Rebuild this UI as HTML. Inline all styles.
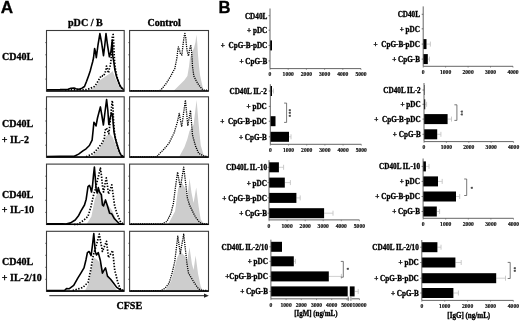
<!DOCTYPE html>
<html><head><meta charset="utf-8"><style>
html,body{margin:0;padding:0;background:#fff;width:520px;height:322px;overflow:hidden;}
svg{display:block;filter:grayscale(1);}
text{paint-order:stroke;stroke:#000;stroke-width:0.32px;}
</style></head><body>
<svg width="520" height="322" viewBox="0 0 520 322">
<rect width="520" height="322" fill="#fff"/>
<g opacity="0.995">
<text x="0.7" y="13.3" font-family='"Liberation Sans", sans-serif' font-size="17.1" font-weight="bold" text-anchor="start" fill="#000" >A</text>
<text x="218.6" y="12.8" font-family='"Liberation Sans", sans-serif' font-size="16.6" font-weight="bold" text-anchor="start" fill="#000" >B</text>
<text x="68.0" y="26.3" font-family='"Liberation Serif", serif' font-size="10.1" font-weight="bold" text-anchor="start" fill="#000" >pDC / B</text>
<text x="147.4" y="26.3" font-family='"Liberation Serif", serif' font-size="10.1" font-weight="bold" text-anchor="start" fill="#000" >Control</text>
<text x="2.0" y="60.1" font-family='"Liberation Serif", serif' font-size="10.0" font-weight="bold" text-anchor="start" fill="#000" >CD40L</text>
<text x="2.0" y="127.0" font-family='"Liberation Serif", serif' font-size="10.0" font-weight="bold" text-anchor="start" fill="#000" >CD40L</text>
<text x="1.8" y="142.7" font-family='"Liberation Serif", serif' font-size="10.0" font-weight="bold" text-anchor="start" fill="#000" >+ IL-2</text>
<text x="2.0" y="197.5" font-family='"Liberation Serif", serif' font-size="10.0" font-weight="bold" text-anchor="start" fill="#000" >CD40L</text>
<text x="1.8" y="213.2" font-family='"Liberation Serif", serif' font-size="10.0" font-weight="bold" text-anchor="start" fill="#000" >+ IL-10</text>
<text x="2.0" y="265.3" font-family='"Liberation Serif", serif' font-size="10.0" font-weight="bold" text-anchor="start" fill="#000" >CD40L</text>
<text x="1.8" y="281.0" font-family='"Liberation Serif", serif' font-size="10.0" font-weight="bold" text-anchor="start" fill="#000" >+ IL-2/10</text>
<polygon points="84.0,90.5 90.0,89.5 95.0,87.5 100.0,80.2 103.0,78.0 106.0,76.0 109.0,74.0 111.5,72.2 112.6,71.0 114.9,76.8 118.3,84.8 121.2,89.4 122.0,90.5" fill="#cdcdcd" stroke="none"/>
<polyline points="65.0,90.0 75.0,89.8 86.0,89.7 90.0,88.5 94.5,86.5 97.0,83.0 99.8,78.0 101.4,75.5 103.4,76.2 105.1,73.0 106.0,69.0 106.5,66.0 107.5,70.0 108.5,73.0 109.5,68.0 110.5,65.0 111.0,60.0 111.8,50.0 112.4,36.0 113.2,34.5 113.8,45.0 114.2,55.0 114.6,62.0 115.5,70.0 117.0,77.0 119.0,83.0 121.0,87.5 123.5,89.5" fill="none" stroke="#000" stroke-width="1.7" stroke-dasharray="1.4 1.5" stroke-linejoin="round"/>
<polyline points="46.5,89.8 60.0,89.6 68.0,89.3 71.0,88.3 74.0,88.0 76.0,88.8 79.0,89.3 82.0,88.2 84.5,86.5 86.6,81.2 88.7,75.4 90.2,71.0 91.4,66.4 92.6,62.0 93.5,58.0 94.2,52.0 94.6,48.5 95.5,52.0 96.3,57.7 98.0,45.0 99.9,33.6 101.5,42.0 103.5,55.7 104.8,45.0 106.0,33.5 107.5,45.0 109.4,56.8 110.9,51.8 112.3,40.0 112.6,55.0 113.8,61.9 114.9,69.9 116.6,76.8 118.3,81.4 120.1,86.0 122.4,88.8 124.0,89.6" fill="none" stroke="#000" stroke-width="1.6" stroke-linejoin="round"/>
<rect x="46.5" y="30.5" width="77.7" height="60.7" fill="none" stroke="#3a3a3a" stroke-width="1.1"/>
<line x1="45.3" y1="79.1" x2="46.5" y2="79.1" stroke="#333" stroke-width="0.8"/>
<line x1="45.3" y1="66.9" x2="46.5" y2="66.9" stroke="#333" stroke-width="0.8"/>
<line x1="45.3" y1="54.8" x2="46.5" y2="54.8" stroke="#333" stroke-width="0.8"/>
<line x1="45.3" y1="42.6" x2="46.5" y2="42.6" stroke="#333" stroke-width="0.8"/>
<line x1="46.5" y1="90.9" x2="124.2" y2="90.9" stroke="#000" stroke-width="1.4"/>
<polygon points="173.7,90.8 179.0,85.4 184.3,80.2 187.4,76.0 189.0,66.4 190.0,58.0 192.0,52.0 194.0,48.0 195.5,42.0 196.4,34.8 197.2,42.0 198.0,55.0 199.0,66.0 200.0,75.0 201.5,82.0 203.0,88.0 204.5,90.8" fill="#cdcdcd" stroke="none"/>
<polyline points="131.0,90.7 150.0,90.7 158.0,90.6 160.0,90.5 162.1,88.6 166.3,83.3 170.5,76.5 174.8,68.5 176.9,58.0 177.8,50.0 178.4,46.9 179.5,50.0 180.5,54.0 181.9,55.0 183.0,45.0 184.0,37.0 184.9,33.5 185.8,38.0 186.5,46.0 187.3,52.0 188.5,56.0 189.5,50.0 190.8,44.9 191.6,52.0 192.2,60.0 192.5,66.4 193.8,76.0 196.4,81.2 199.0,85.4 202.2,89.1 204.0,90.2 207.0,90.2" fill="none" stroke="#000" stroke-width="1.3" stroke-dasharray="1.2 1.0" stroke-linejoin="round"/>
<rect x="129.6" y="30.5" width="78.9" height="60.7" fill="none" stroke="#3a3a3a" stroke-width="1.1"/>
<line x1="128.4" y1="79.1" x2="129.6" y2="79.1" stroke="#333" stroke-width="0.8"/>
<line x1="128.4" y1="66.9" x2="129.6" y2="66.9" stroke="#333" stroke-width="0.8"/>
<line x1="128.4" y1="54.8" x2="129.6" y2="54.8" stroke="#333" stroke-width="0.8"/>
<line x1="128.4" y1="42.6" x2="129.6" y2="42.6" stroke="#333" stroke-width="0.8"/>
<line x1="129.6" y1="90.9" x2="208.5" y2="90.9" stroke="#000" stroke-width="1.4"/>
<polygon points="91.0,157.0 96.0,152.0 100.0,148.0 102.3,143.5 104.5,139.0 106.0,136.5 108.5,134.0 110.0,134.0 112.5,137.0 114.5,142.0 116.5,147.0 118.5,152.0 120.5,157.0" fill="#cdcdcd" stroke="none"/>
<polyline points="86.1,156.8 93.7,153.1 98.5,147.7 102.3,142.8 104.4,138.0 105.0,130.5 106.5,128.0 108.8,133.7 109.5,128.0 110.5,118.0 111.5,108.0 112.3,100.5 113.0,108.0 113.5,120.0 114.5,133.0 116.0,141.0 118.0,148.0 120.5,154.0 123.0,156.5" fill="none" stroke="#000" stroke-width="1.7" stroke-dasharray="1.4 1.5" stroke-linejoin="round"/>
<polyline points="46.5,156.5 60.0,156.3 68.0,156.2 74.3,156.3 78.6,154.1 82.9,150.9 86.1,148.8 89.4,145.5 92.1,140.1 93.1,130.5 93.9,122.3 95.0,124.0 96.0,126.0 97.5,118.0 100.4,106.9 101.8,115.0 103.4,125.0 105.0,112.0 106.6,99.5 107.8,110.0 108.8,124.5 110.2,118.0 111.5,113.0 112.6,114.5 113.2,124.0 114.1,132.6 115.7,140.1 117.4,145.5 119.5,152.0 121.7,156.3 124.0,156.5" fill="none" stroke="#000" stroke-width="1.6" stroke-linejoin="round"/>
<rect x="46.5" y="96.8" width="77.7" height="60.500000000000014" fill="none" stroke="#3a3a3a" stroke-width="1.1"/>
<line x1="45.3" y1="145.2" x2="46.5" y2="145.2" stroke="#333" stroke-width="0.8"/>
<line x1="45.3" y1="133.1" x2="46.5" y2="133.1" stroke="#333" stroke-width="0.8"/>
<line x1="45.3" y1="121.0" x2="46.5" y2="121.0" stroke="#333" stroke-width="0.8"/>
<line x1="45.3" y1="108.9" x2="46.5" y2="108.9" stroke="#333" stroke-width="0.8"/>
<line x1="46.5" y1="157.0" x2="124.2" y2="157.0" stroke="#000" stroke-width="1.4"/>
<polygon points="179.2,156.8 184.4,147.3 187.4,139.1 189.5,130.9 193.6,124.7 196.6,100.1 198.7,124.7 200.7,145.2 203.8,155.5 204.5,156.8" fill="#cdcdcd" stroke="none"/>
<polyline points="131.0,157.0 150.0,157.0 156.7,157.0 158.7,154.5 163.9,149.3 169.0,143.2 174.1,132.9 177.2,122.7 179.2,113.5 181.7,126.8 185.4,100.1 187.8,125.8 190.5,110.4 192.5,135.0 195.6,146.3 198.7,153.4 202.8,155.5 207.0,156.5" fill="none" stroke="#000" stroke-width="1.3" stroke-dasharray="1.2 1.0" stroke-linejoin="round"/>
<rect x="129.6" y="96.8" width="78.9" height="60.500000000000014" fill="none" stroke="#3a3a3a" stroke-width="1.1"/>
<line x1="128.4" y1="145.2" x2="129.6" y2="145.2" stroke="#333" stroke-width="0.8"/>
<line x1="128.4" y1="133.1" x2="129.6" y2="133.1" stroke="#333" stroke-width="0.8"/>
<line x1="128.4" y1="121.0" x2="129.6" y2="121.0" stroke="#333" stroke-width="0.8"/>
<line x1="128.4" y1="108.9" x2="129.6" y2="108.9" stroke="#333" stroke-width="0.8"/>
<line x1="129.6" y1="157.0" x2="208.5" y2="157.0" stroke="#000" stroke-width="1.4"/>
<polygon points="86.2,224.8 91.4,216.5 94.8,199.2 97.2,193.5 98.5,188.0 100.0,192.0 101.5,197.0 104.1,201.5 108.0,205.0 112.2,210.8 116.8,221.2 119.5,224.8" fill="#cdcdcd" stroke="none"/>
<polyline points="74.0,224.5 77.5,224.4 83.3,220.6 87.9,216.5 90.8,207.3 93.1,196.9 95.0,190.0 97.0,182.0 99.0,174.0 100.4,168.0 101.5,176.0 102.5,186.0 103.5,192.0 105.0,184.0 106.3,177.9 107.5,186.0 108.5,194.0 110.0,190.0 111.8,184.9 113.0,194.0 114.5,205.0 116.8,213.1 120.2,221.2 123.0,224.0" fill="none" stroke="#000" stroke-width="1.7" stroke-dasharray="1.4 1.5" stroke-linejoin="round"/>
<polyline points="46.5,223.8 62.0,223.8 66.0,224.0 70.6,222.9 75.2,220.0 78.7,215.4 81.0,210.8 84.5,205.0 86.2,199.2 88.0,186.6 89.4,185.4 90.5,188.0 91.5,192.0 92.5,186.0 93.5,175.0 94.4,167.0 95.3,178.0 96.2,190.0 97.2,193.0 98.3,187.6 99.5,192.0 101.4,194.8 102.4,205.0 103.5,206.0 105.5,199.9 107.5,206.0 109.6,213.2 111.6,213.7 114.5,218.8 119.1,223.5 123.0,224.0" fill="none" stroke="#000" stroke-width="1.6" stroke-linejoin="round"/>
<rect x="46.5" y="164.1" width="77.7" height="60.400000000000006" fill="none" stroke="#3a3a3a" stroke-width="1.1"/>
<line x1="45.3" y1="212.4" x2="46.5" y2="212.4" stroke="#333" stroke-width="0.8"/>
<line x1="45.3" y1="200.3" x2="46.5" y2="200.3" stroke="#333" stroke-width="0.8"/>
<line x1="45.3" y1="188.3" x2="46.5" y2="188.3" stroke="#333" stroke-width="0.8"/>
<line x1="45.3" y1="176.2" x2="46.5" y2="176.2" stroke="#333" stroke-width="0.8"/>
<line x1="46.5" y1="224.2" x2="124.2" y2="224.2" stroke="#000" stroke-width="1.4"/>
<polygon points="168.0,224.6 175.1,211.2 178.2,188.6 181.7,182.6 185.4,188.6 187.4,196.9 189.5,178.4 191.5,192.8 193.6,203.0 196.2,187.6 198.7,207.1 200.7,219.5 203.8,223.5 204.5,224.6" fill="#cdcdcd" stroke="none"/>
<polyline points="131.0,224.0 150.0,224.0 161.8,224.0 166.9,221.4 171.0,213.2 173.5,203.0 175.5,186.6 177.6,172.2 180.3,187.6 183.7,167.1 185.8,184.5 187.4,197.9 189.5,205.0 192.5,211.2 195.6,217.3 199.7,222.4 203.0,224.0 207.0,224.0" fill="none" stroke="#000" stroke-width="1.3" stroke-dasharray="1.2 1.0" stroke-linejoin="round"/>
<rect x="129.6" y="164.1" width="78.9" height="60.400000000000006" fill="none" stroke="#3a3a3a" stroke-width="1.1"/>
<line x1="128.4" y1="212.4" x2="129.6" y2="212.4" stroke="#333" stroke-width="0.8"/>
<line x1="128.4" y1="200.3" x2="129.6" y2="200.3" stroke="#333" stroke-width="0.8"/>
<line x1="128.4" y1="188.3" x2="129.6" y2="188.3" stroke="#333" stroke-width="0.8"/>
<line x1="128.4" y1="176.2" x2="129.6" y2="176.2" stroke="#333" stroke-width="0.8"/>
<line x1="129.6" y1="224.2" x2="208.5" y2="224.2" stroke="#000" stroke-width="1.4"/>
<polygon points="85.0,290.8 89.1,282.3 91.5,267.9 94.2,257.7 97.3,259.7 100.4,263.8 103.4,270.0 107.5,276.1 111.6,282.3 115.7,288.4 117.5,290.8" fill="#cdcdcd" stroke="none"/>
<polyline points="72.7,290.6 82.9,287.4 88.1,282.3 90.7,270.0 93.2,255.6 96.3,245.4 99.3,234.1 102.4,251.5 106.5,241.3 108.5,257.7 112.6,250.5 114.7,270.0 117.8,282.3 120.5,289.5 123.0,290.5" fill="none" stroke="#000" stroke-width="1.7" stroke-dasharray="1.4 1.5" stroke-linejoin="round"/>
<polyline points="46.5,290.5 64.5,290.5 66.5,288.6 69.0,288.8 73.7,285.4 77.8,278.2 80.9,273.1 84.0,267.9 86.0,259.7 87.4,252.6 89.1,251.5 91.1,255.6 92.5,245.0 93.8,233.5 95.2,251.5 96.5,255.0 98.3,252.6 100.4,260.8 102.4,273.1 105.5,267.9 107.5,276.1 110.6,279.2 113.5,283.0 116.7,287.4 120.8,290.0 124.0,290.5" fill="none" stroke="#000" stroke-width="1.6" stroke-linejoin="round"/>
<rect x="46.5" y="231.3" width="77.7" height="60.0" fill="none" stroke="#3a3a3a" stroke-width="1.1"/>
<line x1="45.3" y1="279.3" x2="46.5" y2="279.3" stroke="#333" stroke-width="0.8"/>
<line x1="45.3" y1="267.3" x2="46.5" y2="267.3" stroke="#333" stroke-width="0.8"/>
<line x1="45.3" y1="255.3" x2="46.5" y2="255.3" stroke="#333" stroke-width="0.8"/>
<line x1="45.3" y1="243.3" x2="46.5" y2="243.3" stroke="#333" stroke-width="0.8"/>
<line x1="46.5" y1="291.0" x2="124.2" y2="291.0" stroke="#000" stroke-width="1.4"/>
<polygon points="164.9,290.8 171.0,281.3 174.1,270.0 177.2,257.7 180.3,251.5 184.4,255.6 187.0,261.8 189.5,247.4 191.9,263.8 193.6,270.0 195.6,255.6 198.1,274.1 200.7,286.4 203.0,290.8" fill="#cdcdcd" stroke="none"/>
<polyline points="131.0,290.8 150.0,290.8 160.8,290.7 164.9,288.4 169.0,283.3 172.1,273.1 174.7,261.8 176.2,249.5 177.8,236.2 180.3,253.6 183.7,234.1 185.4,249.5 187.0,263.8 188.5,273.1 191.5,278.2 194.6,283.3 198.7,289.0 202.0,290.5 207.0,290.5" fill="none" stroke="#000" stroke-width="1.3" stroke-dasharray="1.2 1.0" stroke-linejoin="round"/>
<rect x="129.6" y="231.3" width="78.9" height="60.0" fill="none" stroke="#3a3a3a" stroke-width="1.1"/>
<line x1="128.4" y1="279.3" x2="129.6" y2="279.3" stroke="#333" stroke-width="0.8"/>
<line x1="128.4" y1="267.3" x2="129.6" y2="267.3" stroke="#333" stroke-width="0.8"/>
<line x1="128.4" y1="255.3" x2="129.6" y2="255.3" stroke="#333" stroke-width="0.8"/>
<line x1="128.4" y1="243.3" x2="129.6" y2="243.3" stroke="#333" stroke-width="0.8"/>
<line x1="129.6" y1="291.0" x2="208.5" y2="291.0" stroke="#000" stroke-width="1.4"/>
<line x1="49.3" y1="295.7" x2="205" y2="295.7" stroke="#222" stroke-width="1"/>
<polygon points="204,293.6 208.8,295.7 204,297.8" fill="#222"/>
<text x="116.4" y="308.8" font-family='"Liberation Serif", serif' font-size="10.1" font-weight="bold" text-anchor="start" fill="#000" >CFSE</text>
<line x1="268.5" y1="15.7" x2="270.0" y2="15.7" stroke="#333" stroke-width="0.7"/>
<text x="267.3" y="18.599999999999998" font-family='"Liberation Serif", serif' font-size="7.2" font-weight="bold" text-anchor="end" fill="#000" >CD40L</text>
<line x1="268.5" y1="30.2" x2="270.0" y2="30.2" stroke="#333" stroke-width="0.7"/>
<text x="267.3" y="33.1" font-family='"Liberation Serif", serif' font-size="7.2" font-weight="bold" text-anchor="end" fill="#000" >+ pDC</text>
<rect x="270.0" y="40.4" width="2.00" height="10" fill="#000"/>
<line x1="268.5" y1="45.4" x2="270.0" y2="45.4" stroke="#333" stroke-width="0.7"/>
<text x="267.3" y="48.3" font-family='"Liberation Serif", serif' font-size="7.2" font-weight="bold" text-anchor="end" fill="#000" >+  CpG-B-pDC</text>
<line x1="268.5" y1="60.9" x2="270.0" y2="60.9" stroke="#333" stroke-width="0.7"/>
<text x="267.3" y="63.8" font-family='"Liberation Serif", serif' font-size="7.2" font-weight="bold" text-anchor="end" fill="#000" >+ CpG-B</text>
<line x1="270.0" y1="8.5" x2="270.0" y2="68.6" stroke="#555" stroke-width="0.9"/>
<line x1="270.0" y1="68.6" x2="361.0" y2="68.6" stroke="#555" stroke-width="0.9"/>
<line x1="270.0" y1="68.6" x2="270.0" y2="69.89999999999999" stroke="#555" stroke-width="0.6"/>
<text x="270.0" y="76.39999999999999" font-family='"Liberation Serif", serif' font-size="5.6" font-weight="bold" text-anchor="middle" fill="#111" style="stroke-width:0.18px">0</text>
<line x1="288.2" y1="68.6" x2="288.2" y2="69.89999999999999" stroke="#555" stroke-width="0.6"/>
<text x="288.2" y="76.39999999999999" font-family='"Liberation Serif", serif' font-size="5.6" font-weight="bold" text-anchor="middle" fill="#111" style="stroke-width:0.18px">1000</text>
<line x1="306.4" y1="68.6" x2="306.4" y2="69.89999999999999" stroke="#555" stroke-width="0.6"/>
<text x="306.4" y="76.39999999999999" font-family='"Liberation Serif", serif' font-size="5.6" font-weight="bold" text-anchor="middle" fill="#111" style="stroke-width:0.18px">2000</text>
<line x1="324.6" y1="68.6" x2="324.6" y2="69.89999999999999" stroke="#555" stroke-width="0.6"/>
<text x="324.6" y="76.39999999999999" font-family='"Liberation Serif", serif' font-size="5.6" font-weight="bold" text-anchor="middle" fill="#111" style="stroke-width:0.18px">3000</text>
<line x1="342.8" y1="68.6" x2="342.8" y2="69.89999999999999" stroke="#555" stroke-width="0.6"/>
<text x="342.8" y="76.39999999999999" font-family='"Liberation Serif", serif' font-size="5.6" font-weight="bold" text-anchor="middle" fill="#111" style="stroke-width:0.18px">4000</text>
<line x1="361.0" y1="68.6" x2="361.0" y2="69.89999999999999" stroke="#555" stroke-width="0.6"/>
<text x="361.0" y="76.39999999999999" font-family='"Liberation Serif", serif' font-size="5.6" font-weight="bold" text-anchor="middle" fill="#111" style="stroke-width:0.18px">5000</text>
<line x1="421.7" y1="14.3" x2="423.2" y2="14.3" stroke="#333" stroke-width="0.7"/>
<text x="420.0" y="17.2" font-family='"Liberation Serif", serif' font-size="7.2" font-weight="bold" text-anchor="end" fill="#000" >CD40L</text>
<line x1="421.7" y1="28.8" x2="423.2" y2="28.8" stroke="#333" stroke-width="0.7"/>
<text x="420.0" y="31.7" font-family='"Liberation Serif", serif' font-size="7.2" font-weight="bold" text-anchor="end" fill="#000" >+ pDC</text>
<line x1="426.5" y1="44.1" x2="430.4" y2="44.1" stroke="#c4c4c4" stroke-width="0.8"/>
<line x1="430.4" y1="41.6" x2="430.4" y2="46.6" stroke="#c4c4c4" stroke-width="0.9"/>
<rect x="423.2" y="39.1" width="3.30" height="10" fill="#000"/>
<line x1="421.7" y1="44.1" x2="423.2" y2="44.1" stroke="#333" stroke-width="0.7"/>
<text x="420.0" y="47.0" font-family='"Liberation Serif", serif' font-size="7.2" font-weight="bold" text-anchor="end" fill="#000" >+  CpG-B-pDC</text>
<line x1="427.8" y1="59.1" x2="429.5" y2="59.1" stroke="#c4c4c4" stroke-width="0.8"/>
<line x1="429.5" y1="56.6" x2="429.5" y2="61.6" stroke="#c4c4c4" stroke-width="0.9"/>
<rect x="423.2" y="54.1" width="4.60" height="10" fill="#000"/>
<line x1="421.7" y1="59.1" x2="423.2" y2="59.1" stroke="#333" stroke-width="0.7"/>
<text x="420.0" y="62.0" font-family='"Liberation Serif", serif' font-size="7.2" font-weight="bold" text-anchor="end" fill="#000" >+ CpG-B</text>
<line x1="423.2" y1="6.4" x2="423.2" y2="66.3" stroke="#555" stroke-width="0.9"/>
<line x1="423.2" y1="66.3" x2="513.0" y2="66.3" stroke="#555" stroke-width="0.9"/>
<line x1="423.2" y1="66.3" x2="423.2" y2="67.6" stroke="#555" stroke-width="0.6"/>
<text x="423.2" y="74.1" font-family='"Liberation Serif", serif' font-size="5.6" font-weight="bold" text-anchor="middle" fill="#111" style="stroke-width:0.18px">0</text>
<line x1="445.6" y1="66.3" x2="445.6" y2="67.6" stroke="#555" stroke-width="0.6"/>
<text x="445.6" y="74.1" font-family='"Liberation Serif", serif' font-size="5.6" font-weight="bold" text-anchor="middle" fill="#111" style="stroke-width:0.18px">1000</text>
<line x1="468.1" y1="66.3" x2="468.1" y2="67.6" stroke="#555" stroke-width="0.6"/>
<text x="468.1" y="74.1" font-family='"Liberation Serif", serif' font-size="5.6" font-weight="bold" text-anchor="middle" fill="#111" style="stroke-width:0.18px">2000</text>
<line x1="490.5" y1="66.3" x2="490.5" y2="67.6" stroke="#555" stroke-width="0.6"/>
<text x="490.5" y="74.1" font-family='"Liberation Serif", serif' font-size="5.6" font-weight="bold" text-anchor="middle" fill="#111" style="stroke-width:0.18px">3000</text>
<line x1="513.0" y1="66.3" x2="513.0" y2="67.6" stroke="#555" stroke-width="0.6"/>
<text x="513.0" y="74.1" font-family='"Liberation Serif", serif' font-size="5.6" font-weight="bold" text-anchor="middle" fill="#111" style="stroke-width:0.18px">4000</text>
<line x1="272" y1="91.0" x2="273.5" y2="91.0" stroke="#c4c4c4" stroke-width="0.8"/>
<line x1="273.5" y1="88.5" x2="273.5" y2="93.5" stroke="#c4c4c4" stroke-width="0.9"/>
<rect x="270.3" y="86.0" width="1.70" height="10" fill="#000"/>
<line x1="268.8" y1="91.0" x2="270.3" y2="91.0" stroke="#333" stroke-width="0.7"/>
<text x="266.8" y="93.9" font-family='"Liberation Serif", serif' font-size="7.2" font-weight="bold" text-anchor="end" fill="#000" >CD40L IL-2</text>
<line x1="268.8" y1="106.4" x2="270.3" y2="106.4" stroke="#333" stroke-width="0.7"/>
<text x="266.8" y="109.30000000000001" font-family='"Liberation Serif", serif' font-size="7.2" font-weight="bold" text-anchor="end" fill="#000" >+ pDC</text>
<rect x="270.3" y="116.2" width="5.20" height="10" fill="#000"/>
<line x1="268.8" y1="121.2" x2="270.3" y2="121.2" stroke="#333" stroke-width="0.7"/>
<text x="266.8" y="124.10000000000001" font-family='"Liberation Serif", serif' font-size="7.2" font-weight="bold" text-anchor="end" fill="#000" >+  CpG-B-pDC</text>
<line x1="289" y1="136.8" x2="291" y2="136.8" stroke="#c4c4c4" stroke-width="0.8"/>
<line x1="291" y1="134.3" x2="291" y2="139.3" stroke="#c4c4c4" stroke-width="0.9"/>
<rect x="270.3" y="131.8" width="18.70" height="10" fill="#000"/>
<line x1="268.8" y1="136.8" x2="270.3" y2="136.8" stroke="#333" stroke-width="0.7"/>
<text x="266.8" y="139.70000000000002" font-family='"Liberation Serif", serif' font-size="7.2" font-weight="bold" text-anchor="end" fill="#000" >+ CpG-B</text>
<line x1="270.3" y1="84.2" x2="270.3" y2="144.3" stroke="#555" stroke-width="0.9"/>
<line x1="270.3" y1="144.3" x2="361.3" y2="144.3" stroke="#555" stroke-width="0.9"/>
<line x1="270.3" y1="144.3" x2="270.3" y2="145.60000000000002" stroke="#555" stroke-width="0.6"/>
<text x="270.3" y="152.10000000000002" font-family='"Liberation Serif", serif' font-size="5.6" font-weight="bold" text-anchor="middle" fill="#111" style="stroke-width:0.18px">0</text>
<line x1="288.5" y1="144.3" x2="288.5" y2="145.60000000000002" stroke="#555" stroke-width="0.6"/>
<text x="288.5" y="152.10000000000002" font-family='"Liberation Serif", serif' font-size="5.6" font-weight="bold" text-anchor="middle" fill="#111" style="stroke-width:0.18px">1000</text>
<line x1="306.7" y1="144.3" x2="306.7" y2="145.60000000000002" stroke="#555" stroke-width="0.6"/>
<text x="306.7" y="152.10000000000002" font-family='"Liberation Serif", serif' font-size="5.6" font-weight="bold" text-anchor="middle" fill="#111" style="stroke-width:0.18px">2000</text>
<line x1="324.9" y1="144.3" x2="324.9" y2="145.60000000000002" stroke="#555" stroke-width="0.6"/>
<text x="324.9" y="152.10000000000002" font-family='"Liberation Serif", serif' font-size="5.6" font-weight="bold" text-anchor="middle" fill="#111" style="stroke-width:0.18px">3000</text>
<line x1="343.1" y1="144.3" x2="343.1" y2="145.60000000000002" stroke="#555" stroke-width="0.6"/>
<text x="343.1" y="152.10000000000002" font-family='"Liberation Serif", serif' font-size="5.6" font-weight="bold" text-anchor="middle" fill="#111" style="stroke-width:0.18px">4000</text>
<line x1="361.3" y1="144.3" x2="361.3" y2="145.60000000000002" stroke="#555" stroke-width="0.6"/>
<text x="361.3" y="152.10000000000002" font-family='"Liberation Serif", serif' font-size="5.6" font-weight="bold" text-anchor="middle" fill="#111" style="stroke-width:0.18px">5000</text>
<path d="M284.1,103.1 H286.6 V122.4 H284.1" fill="none" stroke="#555" stroke-width="0.8"/>
<text x="0" y="0" font-family='"Liberation Serif", serif' font-size="5.6" font-weight="bold" text-anchor="middle" fill="#111" style="stroke:none" transform="translate(286.8,113) rotate(90)">***</text>
<rect x="424.0" y="85.0" width="0.50" height="10" fill="#000"/>
<line x1="422.5" y1="90.0" x2="424.0" y2="90.0" stroke="#333" stroke-width="0.7"/>
<text x="420.7" y="92.9" font-family='"Liberation Serif", serif' font-size="7.2" font-weight="bold" text-anchor="end" fill="#000" >CD40L IL-2</text>
<line x1="425.2" y1="104.3" x2="426.6" y2="104.3" stroke="#c4c4c4" stroke-width="0.8"/>
<line x1="426.6" y1="101.8" x2="426.6" y2="106.8" stroke="#c4c4c4" stroke-width="0.9"/>
<rect x="424.0" y="99.3" width="1.20" height="10" fill="#000"/>
<line x1="422.5" y1="104.3" x2="424.0" y2="104.3" stroke="#333" stroke-width="0.7"/>
<text x="420.7" y="107.2" font-family='"Liberation Serif", serif' font-size="7.2" font-weight="bold" text-anchor="end" fill="#000" >+ pDC</text>
<line x1="447.6" y1="119.1" x2="451.5" y2="119.1" stroke="#c4c4c4" stroke-width="0.8"/>
<line x1="451.5" y1="116.6" x2="451.5" y2="121.6" stroke="#c4c4c4" stroke-width="0.9"/>
<rect x="424.0" y="114.1" width="23.60" height="10" fill="#000"/>
<line x1="422.5" y1="119.1" x2="424.0" y2="119.1" stroke="#333" stroke-width="0.7"/>
<text x="420.7" y="122.0" font-family='"Liberation Serif", serif' font-size="7.2" font-weight="bold" text-anchor="end" fill="#000" >+  CpG-B-pDC</text>
<line x1="437.2" y1="134.3" x2="440.9" y2="134.3" stroke="#c4c4c4" stroke-width="0.8"/>
<line x1="440.9" y1="131.8" x2="440.9" y2="136.8" stroke="#c4c4c4" stroke-width="0.9"/>
<rect x="424.0" y="129.3" width="13.20" height="10" fill="#000"/>
<line x1="422.5" y1="134.3" x2="424.0" y2="134.3" stroke="#333" stroke-width="0.7"/>
<text x="420.7" y="137.20000000000002" font-family='"Liberation Serif", serif' font-size="7.2" font-weight="bold" text-anchor="end" fill="#000" >+ CpG-B</text>
<line x1="424.0" y1="83.0" x2="424.0" y2="141.6" stroke="#555" stroke-width="0.9"/>
<line x1="424.0" y1="141.6" x2="513.6" y2="141.6" stroke="#555" stroke-width="0.9"/>
<line x1="424.0" y1="141.6" x2="424.0" y2="142.9" stroke="#555" stroke-width="0.6"/>
<text x="424.0" y="149.4" font-family='"Liberation Serif", serif' font-size="5.6" font-weight="bold" text-anchor="middle" fill="#111" style="stroke-width:0.18px">0</text>
<line x1="446.4" y1="141.6" x2="446.4" y2="142.9" stroke="#555" stroke-width="0.6"/>
<text x="446.4" y="149.4" font-family='"Liberation Serif", serif' font-size="5.6" font-weight="bold" text-anchor="middle" fill="#111" style="stroke-width:0.18px">1000</text>
<line x1="468.8" y1="141.6" x2="468.8" y2="142.9" stroke="#555" stroke-width="0.6"/>
<text x="468.8" y="149.4" font-family='"Liberation Serif", serif' font-size="5.6" font-weight="bold" text-anchor="middle" fill="#111" style="stroke-width:0.18px">2000</text>
<line x1="491.2" y1="141.6" x2="491.2" y2="142.9" stroke="#555" stroke-width="0.6"/>
<text x="491.2" y="149.4" font-family='"Liberation Serif", serif' font-size="5.6" font-weight="bold" text-anchor="middle" fill="#111" style="stroke-width:0.18px">3000</text>
<line x1="513.6" y1="141.6" x2="513.6" y2="142.9" stroke="#555" stroke-width="0.6"/>
<text x="513.6" y="149.4" font-family='"Liberation Serif", serif' font-size="5.6" font-weight="bold" text-anchor="middle" fill="#111" style="stroke-width:0.18px">4000</text>
<path d="M454.4,104.8 H456.9 V120.4 H454.4" fill="none" stroke="#555" stroke-width="0.8"/>
<text x="0" y="0" font-family='"Liberation Serif", serif' font-size="5.6" font-weight="bold" text-anchor="middle" fill="#111" style="stroke:none" transform="translate(459.1,113) rotate(90)">**</text>
<line x1="278.9" y1="167.3" x2="283.6" y2="167.3" stroke="#c4c4c4" stroke-width="0.8"/>
<line x1="283.6" y1="164.8" x2="283.6" y2="169.8" stroke="#c4c4c4" stroke-width="0.9"/>
<rect x="269.0" y="162.3" width="9.90" height="10" fill="#000"/>
<line x1="267.5" y1="167.3" x2="269.0" y2="167.3" stroke="#333" stroke-width="0.7"/>
<text x="267.0" y="170.20000000000002" font-family='"Liberation Serif", serif' font-size="7.2" font-weight="bold" text-anchor="end" fill="#000" >CD40L IL-10</text>
<line x1="284.8" y1="182.6" x2="290.4" y2="182.6" stroke="#c4c4c4" stroke-width="0.8"/>
<line x1="290.4" y1="180.1" x2="290.4" y2="185.1" stroke="#c4c4c4" stroke-width="0.9"/>
<rect x="269.0" y="177.6" width="15.80" height="10" fill="#000"/>
<line x1="267.5" y1="182.6" x2="269.0" y2="182.6" stroke="#333" stroke-width="0.7"/>
<text x="267.0" y="185.5" font-family='"Liberation Serif", serif' font-size="7.2" font-weight="bold" text-anchor="end" fill="#000" >+ pDC</text>
<line x1="296.4" y1="197.9" x2="300.2" y2="197.9" stroke="#c4c4c4" stroke-width="0.8"/>
<line x1="300.2" y1="195.4" x2="300.2" y2="200.4" stroke="#c4c4c4" stroke-width="0.9"/>
<rect x="269.0" y="192.9" width="27.40" height="10" fill="#000"/>
<line x1="267.5" y1="197.9" x2="269.0" y2="197.9" stroke="#333" stroke-width="0.7"/>
<text x="267.0" y="200.8" font-family='"Liberation Serif", serif' font-size="7.2" font-weight="bold" text-anchor="end" fill="#000" >+ CpG-B-pDC</text>
<line x1="324.1" y1="213.2" x2="333" y2="213.2" stroke="#c4c4c4" stroke-width="0.8"/>
<line x1="333" y1="210.7" x2="333" y2="215.7" stroke="#c4c4c4" stroke-width="0.9"/>
<rect x="269.0" y="208.2" width="55.10" height="10" fill="#000"/>
<line x1="267.5" y1="213.2" x2="269.0" y2="213.2" stroke="#333" stroke-width="0.7"/>
<text x="267.0" y="216.1" font-family='"Liberation Serif", serif' font-size="7.2" font-weight="bold" text-anchor="end" fill="#000" >+ CpG-B</text>
<line x1="269.0" y1="160.2" x2="269.0" y2="219.9" stroke="#555" stroke-width="0.9"/>
<line x1="269.0" y1="219.9" x2="359.4" y2="219.9" stroke="#555" stroke-width="0.9"/>
<line x1="269.0" y1="219.9" x2="269.0" y2="221.20000000000002" stroke="#555" stroke-width="0.6"/>
<text x="269.0" y="227.70000000000002" font-family='"Liberation Serif", serif' font-size="5.6" font-weight="bold" text-anchor="middle" fill="#111" style="stroke-width:0.18px">0</text>
<line x1="287.1" y1="219.9" x2="287.1" y2="221.20000000000002" stroke="#555" stroke-width="0.6"/>
<text x="287.1" y="227.70000000000002" font-family='"Liberation Serif", serif' font-size="5.6" font-weight="bold" text-anchor="middle" fill="#111" style="stroke-width:0.18px">1000</text>
<line x1="305.2" y1="219.9" x2="305.2" y2="221.20000000000002" stroke="#555" stroke-width="0.6"/>
<text x="305.2" y="227.70000000000002" font-family='"Liberation Serif", serif' font-size="5.6" font-weight="bold" text-anchor="middle" fill="#111" style="stroke-width:0.18px">2000</text>
<line x1="323.2" y1="219.9" x2="323.2" y2="221.20000000000002" stroke="#555" stroke-width="0.6"/>
<text x="323.2" y="227.70000000000002" font-family='"Liberation Serif", serif' font-size="5.6" font-weight="bold" text-anchor="middle" fill="#111" style="stroke-width:0.18px">3000</text>
<line x1="341.3" y1="219.9" x2="341.3" y2="221.20000000000002" stroke="#555" stroke-width="0.6"/>
<text x="341.3" y="227.70000000000002" font-family='"Liberation Serif", serif' font-size="5.6" font-weight="bold" text-anchor="middle" fill="#111" style="stroke-width:0.18px">4000</text>
<line x1="359.4" y1="219.9" x2="359.4" y2="221.20000000000002" stroke="#555" stroke-width="0.6"/>
<text x="359.4" y="227.70000000000002" font-family='"Liberation Serif", serif' font-size="5.6" font-weight="bold" text-anchor="middle" fill="#111" style="stroke-width:0.18px">5000</text>
<line x1="425.9" y1="166.4" x2="429" y2="166.4" stroke="#c4c4c4" stroke-width="0.8"/>
<line x1="429" y1="163.9" x2="429" y2="168.9" stroke="#c4c4c4" stroke-width="0.9"/>
<rect x="423.1" y="161.4" width="2.80" height="10" fill="#000"/>
<line x1="421.6" y1="166.4" x2="423.1" y2="166.4" stroke="#333" stroke-width="0.7"/>
<text x="420.0" y="169.3" font-family='"Liberation Serif", serif' font-size="7.2" font-weight="bold" text-anchor="end" fill="#000" >CD40L IL-10</text>
<line x1="438" y1="181.4" x2="442.2" y2="181.4" stroke="#c4c4c4" stroke-width="0.8"/>
<line x1="442.2" y1="178.9" x2="442.2" y2="183.9" stroke="#c4c4c4" stroke-width="0.9"/>
<rect x="423.1" y="176.4" width="14.90" height="10" fill="#000"/>
<line x1="421.6" y1="181.4" x2="423.1" y2="181.4" stroke="#333" stroke-width="0.7"/>
<text x="420.0" y="184.3" font-family='"Liberation Serif", serif' font-size="7.2" font-weight="bold" text-anchor="end" fill="#000" >+ pDC</text>
<line x1="456" y1="196.5" x2="459.7" y2="196.5" stroke="#c4c4c4" stroke-width="0.8"/>
<line x1="459.7" y1="194.0" x2="459.7" y2="199.0" stroke="#c4c4c4" stroke-width="0.9"/>
<rect x="423.1" y="191.5" width="32.90" height="10" fill="#000"/>
<line x1="421.6" y1="196.5" x2="423.1" y2="196.5" stroke="#333" stroke-width="0.7"/>
<text x="420.0" y="199.4" font-family='"Liberation Serif", serif' font-size="7.2" font-weight="bold" text-anchor="end" fill="#000" >+ CpG-B-pDC</text>
<line x1="436.8" y1="211.5" x2="439.6" y2="211.5" stroke="#c4c4c4" stroke-width="0.8"/>
<line x1="439.6" y1="209.0" x2="439.6" y2="214.0" stroke="#c4c4c4" stroke-width="0.9"/>
<rect x="423.1" y="206.5" width="13.70" height="10" fill="#000"/>
<line x1="421.6" y1="211.5" x2="423.1" y2="211.5" stroke="#333" stroke-width="0.7"/>
<text x="420.0" y="214.4" font-family='"Liberation Serif", serif' font-size="7.2" font-weight="bold" text-anchor="end" fill="#000" >+ CpG-B</text>
<line x1="423.1" y1="158.5" x2="423.1" y2="218.3" stroke="#555" stroke-width="0.9"/>
<line x1="423.1" y1="218.3" x2="513.5" y2="218.3" stroke="#555" stroke-width="0.9"/>
<line x1="423.1" y1="218.3" x2="423.1" y2="219.60000000000002" stroke="#555" stroke-width="0.6"/>
<text x="423.1" y="226.10000000000002" font-family='"Liberation Serif", serif' font-size="5.6" font-weight="bold" text-anchor="middle" fill="#111" style="stroke-width:0.18px">0</text>
<line x1="445.7" y1="218.3" x2="445.7" y2="219.60000000000002" stroke="#555" stroke-width="0.6"/>
<text x="445.7" y="226.10000000000002" font-family='"Liberation Serif", serif' font-size="5.6" font-weight="bold" text-anchor="middle" fill="#111" style="stroke-width:0.18px">1000</text>
<line x1="468.3" y1="218.3" x2="468.3" y2="219.60000000000002" stroke="#555" stroke-width="0.6"/>
<text x="468.3" y="226.10000000000002" font-family='"Liberation Serif", serif' font-size="5.6" font-weight="bold" text-anchor="middle" fill="#111" style="stroke-width:0.18px">2000</text>
<line x1="490.9" y1="218.3" x2="490.9" y2="219.60000000000002" stroke="#555" stroke-width="0.6"/>
<text x="490.9" y="226.10000000000002" font-family='"Liberation Serif", serif' font-size="5.6" font-weight="bold" text-anchor="middle" fill="#111" style="stroke-width:0.18px">3000</text>
<line x1="513.5" y1="218.3" x2="513.5" y2="219.60000000000002" stroke="#555" stroke-width="0.6"/>
<text x="513.5" y="226.10000000000002" font-family='"Liberation Serif", serif' font-size="5.6" font-weight="bold" text-anchor="middle" fill="#111" style="stroke-width:0.18px">4000</text>
<path d="M464.2,179 H466.7 V195.5 H464.2" fill="none" stroke="#555" stroke-width="0.8"/>
<text x="0" y="0" font-family='"Liberation Serif", serif' font-size="5.6" font-weight="bold" text-anchor="middle" fill="#111" style="stroke:none" transform="translate(468.6,187.8) rotate(90)">*</text>
<rect x="270.9" y="241.8" width="11.10" height="10" fill="#000"/>
<line x1="269.4" y1="246.8" x2="270.9" y2="246.8" stroke="#333" stroke-width="0.7"/>
<text x="268.0" y="249.70000000000002" font-family='"Liberation Serif", serif' font-size="7.2" font-weight="bold" text-anchor="end" fill="#000" >CD40L IL-2/10</text>
<line x1="293.8" y1="261.3" x2="295.4" y2="261.3" stroke="#c4c4c4" stroke-width="0.8"/>
<line x1="295.4" y1="258.8" x2="295.4" y2="263.8" stroke="#c4c4c4" stroke-width="0.9"/>
<rect x="270.9" y="256.3" width="22.90" height="10" fill="#000"/>
<line x1="269.4" y1="261.3" x2="270.9" y2="261.3" stroke="#333" stroke-width="0.7"/>
<text x="268.0" y="264.2" font-family='"Liberation Serif", serif' font-size="7.2" font-weight="bold" text-anchor="end" fill="#000" >+ pDC</text>
<line x1="328.8" y1="276.4" x2="341.4" y2="276.4" stroke="#c4c4c4" stroke-width="0.8"/>
<line x1="341.4" y1="273.9" x2="341.4" y2="278.9" stroke="#c4c4c4" stroke-width="0.9"/>
<rect x="270.9" y="271.4" width="57.90" height="10" fill="#000"/>
<line x1="269.4" y1="276.4" x2="270.9" y2="276.4" stroke="#333" stroke-width="0.7"/>
<text x="268.0" y="279.29999999999995" font-family='"Liberation Serif", serif' font-size="7.2" font-weight="bold" text-anchor="end" fill="#000" >+CpG-B-pDC</text>
<line x1="354.6" y1="291.4" x2="358.2" y2="291.4" stroke="#c4c4c4" stroke-width="0.8"/>
<line x1="358.2" y1="288.9" x2="358.2" y2="293.9" stroke="#c4c4c4" stroke-width="0.9"/>
<rect x="270.9" y="286.4" width="83.70" height="10" fill="#000"/>
<line x1="269.4" y1="291.4" x2="270.9" y2="291.4" stroke="#333" stroke-width="0.7"/>
<text x="268.0" y="294.29999999999995" font-family='"Liberation Serif", serif' font-size="7.2" font-weight="bold" text-anchor="end" fill="#000" >+ CpG-B</text>
<line x1="270.9" y1="239.7" x2="270.9" y2="298.8" stroke="#555" stroke-width="0.9"/>
<line x1="270.9" y1="298.8" x2="359.5" y2="298.8" stroke="#555" stroke-width="0.9"/>
<line x1="270.9" y1="298.8" x2="270.9" y2="300.1" stroke="#555" stroke-width="0.6"/>
<text x="270.9" y="306.6" font-family='"Liberation Serif", serif' font-size="5.6" font-weight="bold" text-anchor="middle" fill="#111" style="stroke-width:0.18px">0</text>
<line x1="286.1" y1="298.8" x2="286.1" y2="300.1" stroke="#555" stroke-width="0.6"/>
<text x="286.1" y="306.6" font-family='"Liberation Serif", serif' font-size="5.6" font-weight="bold" text-anchor="middle" fill="#111" style="stroke-width:0.18px">1000</text>
<line x1="301.3" y1="298.8" x2="301.3" y2="300.1" stroke="#555" stroke-width="0.6"/>
<text x="301.3" y="306.6" font-family='"Liberation Serif", serif' font-size="5.6" font-weight="bold" text-anchor="middle" fill="#111" style="stroke-width:0.18px">2000</text>
<line x1="316.5" y1="298.8" x2="316.5" y2="300.1" stroke="#555" stroke-width="0.6"/>
<text x="316.5" y="306.6" font-family='"Liberation Serif", serif' font-size="5.6" font-weight="bold" text-anchor="middle" fill="#111" style="stroke-width:0.18px">3000</text>
<line x1="331.7" y1="298.8" x2="331.7" y2="300.1" stroke="#555" stroke-width="0.6"/>
<text x="331.7" y="306.6" font-family='"Liberation Serif", serif' font-size="5.6" font-weight="bold" text-anchor="middle" fill="#111" style="stroke-width:0.18px">4000</text>
<line x1="346.9" y1="298.8" x2="346.9" y2="300.1" stroke="#555" stroke-width="0.6"/>
<text x="346.9" y="306.6" font-family='"Liberation Serif", serif' font-size="5.6" font-weight="bold" text-anchor="middle" fill="#111" style="stroke-width:0.18px">5000</text>
<line x1="359.5" y1="298.8" x2="359.5" y2="300.1" stroke="#555" stroke-width="0.6"/>
<text x="359.5" y="306.6" font-family='"Liberation Serif", serif' font-size="5.6" font-weight="bold" text-anchor="middle" fill="#111" style="stroke-width:0.18px">10000</text>
<path d="M340.8,261.4 H343.3 V277.2 H340.8" fill="none" stroke="#555" stroke-width="0.8"/>
<text x="0" y="0" font-family='"Liberation Serif", serif' font-size="5.6" font-weight="bold" text-anchor="middle" fill="#111" style="stroke:none" transform="translate(344.8,269) rotate(90)">*</text>
<rect x="347.7" y="284" width="2.1" height="14.3" fill="#fff"/>
<rect x="349.1" y="298.2" width="2.5" height="1.3" fill="#fff"/>
<line x1="348.2" y1="296.6" x2="348.2" y2="301" stroke="#333" stroke-width="0.7"/>
<line x1="350.9" y1="296.6" x2="350.9" y2="301" stroke="#333" stroke-width="0.5"/>
<line x1="437.4" y1="247.2" x2="441" y2="247.2" stroke="#c4c4c4" stroke-width="0.8"/>
<line x1="441" y1="244.7" x2="441" y2="249.7" stroke="#c4c4c4" stroke-width="0.9"/>
<rect x="421.8" y="242.2" width="15.60" height="10" fill="#000"/>
<line x1="420.3" y1="247.2" x2="421.8" y2="247.2" stroke="#333" stroke-width="0.7"/>
<text x="418.8" y="250.1" font-family='"Liberation Serif", serif' font-size="7.2" font-weight="bold" text-anchor="end" fill="#000" >CD40L IL-2/10</text>
<line x1="455.4" y1="262.5" x2="461.2" y2="262.5" stroke="#c4c4c4" stroke-width="0.8"/>
<line x1="461.2" y1="260.0" x2="461.2" y2="265.0" stroke="#c4c4c4" stroke-width="0.9"/>
<rect x="421.8" y="257.5" width="33.60" height="10" fill="#000"/>
<line x1="420.3" y1="262.5" x2="421.8" y2="262.5" stroke="#333" stroke-width="0.7"/>
<text x="418.8" y="265.4" font-family='"Liberation Serif", serif' font-size="7.2" font-weight="bold" text-anchor="end" fill="#000" >+ pDC</text>
<line x1="496.2" y1="278.2" x2="505.5" y2="278.2" stroke="#c4c4c4" stroke-width="0.8"/>
<line x1="505.5" y1="275.7" x2="505.5" y2="280.7" stroke="#c4c4c4" stroke-width="0.9"/>
<rect x="421.8" y="273.2" width="74.40" height="10" fill="#000"/>
<line x1="420.3" y1="278.2" x2="421.8" y2="278.2" stroke="#333" stroke-width="0.7"/>
<text x="418.8" y="281.09999999999997" font-family='"Liberation Serif", serif' font-size="7.2" font-weight="bold" text-anchor="end" fill="#000" >+ CpG-B-pDC</text>
<line x1="453.4" y1="293.0" x2="458.4" y2="293.0" stroke="#c4c4c4" stroke-width="0.8"/>
<line x1="458.4" y1="290.5" x2="458.4" y2="295.5" stroke="#c4c4c4" stroke-width="0.9"/>
<rect x="421.8" y="288.0" width="31.60" height="10" fill="#000"/>
<line x1="420.3" y1="293.0" x2="421.8" y2="293.0" stroke="#333" stroke-width="0.7"/>
<text x="418.8" y="295.9" font-family='"Liberation Serif", serif' font-size="7.2" font-weight="bold" text-anchor="end" fill="#000" >+ CpG-B</text>
<line x1="421.8" y1="240.0" x2="421.8" y2="300.4" stroke="#555" stroke-width="0.9"/>
<line x1="421.8" y1="300.4" x2="513.4" y2="300.4" stroke="#555" stroke-width="0.9"/>
<line x1="421.8" y1="300.4" x2="421.8" y2="301.7" stroke="#555" stroke-width="0.6"/>
<text x="421.8" y="308.2" font-family='"Liberation Serif", serif' font-size="5.6" font-weight="bold" text-anchor="middle" fill="#111" style="stroke-width:0.18px">0</text>
<line x1="444.7" y1="300.4" x2="444.7" y2="301.7" stroke="#555" stroke-width="0.6"/>
<text x="444.7" y="308.2" font-family='"Liberation Serif", serif' font-size="5.6" font-weight="bold" text-anchor="middle" fill="#111" style="stroke-width:0.18px">1000</text>
<line x1="467.6" y1="300.4" x2="467.6" y2="301.7" stroke="#555" stroke-width="0.6"/>
<text x="467.6" y="308.2" font-family='"Liberation Serif", serif' font-size="5.6" font-weight="bold" text-anchor="middle" fill="#111" style="stroke-width:0.18px">2000</text>
<line x1="490.5" y1="300.4" x2="490.5" y2="301.7" stroke="#555" stroke-width="0.6"/>
<text x="490.5" y="308.2" font-family='"Liberation Serif", serif' font-size="5.6" font-weight="bold" text-anchor="middle" fill="#111" style="stroke-width:0.18px">3000</text>
<line x1="513.4" y1="300.4" x2="513.4" y2="301.7" stroke="#555" stroke-width="0.6"/>
<text x="513.4" y="308.2" font-family='"Liberation Serif", serif' font-size="5.6" font-weight="bold" text-anchor="middle" fill="#111" style="stroke-width:0.18px">4000</text>
<path d="M507.7,262.4 H510.2 V278.5 H507.7" fill="none" stroke="#555" stroke-width="0.8"/>
<text x="0" y="0" font-family='"Liberation Serif", serif' font-size="5.6" font-weight="bold" text-anchor="middle" fill="#111" style="stroke:none" transform="translate(512.1,269.5) rotate(90)">**</text>
<text x="294.2" y="316.4" font-family='"Liberation Serif", serif' font-size="7.5" font-weight="bold" text-anchor="start" fill="#000" textLength="43.3" lengthAdjust="spacingAndGlyphs">[IgM] (ng/mL)</text>
<text x="447.3" y="317.9" font-family='"Liberation Serif", serif' font-size="7.5" font-weight="bold" text-anchor="start" fill="#000" textLength="42.9" lengthAdjust="spacingAndGlyphs">[IgG] (ng/mL)</text>
</g></svg>
</body></html>
